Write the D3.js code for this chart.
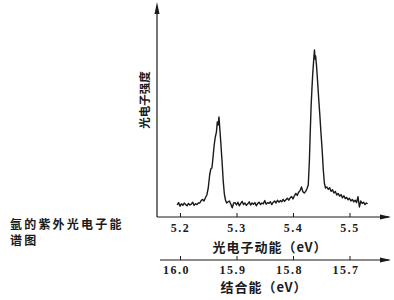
<!DOCTYPE html>
<html>
<head>
<meta charset="utf-8">
<script src="https://cdn.jsdelivr.net/npm/d3@7"></script>
<style>
	body { margin: 0; background: #fff; }
	text { fill: #1a1a1a; }
</style>
</head>
<body>
<div id="wrapper"></div>
<script>
// photoelectron kinetic energy (eV) and intensity (arb.)
const kineticEnergy = [
	5.195, 5.1975, 5.2, 5.2025, 5.205, 5.2075, 5.21, 5.2125, 5.215, 5.2175,
	5.22, 5.2225, 5.225, 5.2275, 5.23, 5.2325, 5.235, 5.2375, 5.24, 5.2425,
	5.245, 5.2475, 5.25, 5.2525, 5.2545, 5.2565, 5.2585, 5.2605, 5.2625, 5.2645,
	5.266, 5.2675, 5.269, 5.2705, 5.2725, 5.2745, 5.2765, 5.2785, 5.2805, 5.2825,
	5.285, 5.2875, 5.29, 5.2925, 5.295, 5.2975, 5.3, 5.3025, 5.305, 5.3075,
	5.31, 5.3125, 5.315, 5.3175, 5.32, 5.3225, 5.325, 5.3275, 5.33, 5.3325,
	5.335, 5.3375, 5.34, 5.3425, 5.345, 5.3475, 5.35, 5.3525, 5.355, 5.3575,
	5.36, 5.3625, 5.365, 5.3675, 5.37, 5.3725, 5.375, 5.3775, 5.38, 5.3825,
	5.385, 5.3875, 5.39, 5.3925, 5.395, 5.3975, 5.4, 5.4025, 5.405, 5.4075,
	5.41, 5.4125, 5.415, 5.4175, 5.42, 5.4225, 5.4245, 5.427, 5.429, 5.4305,
	5.432, 5.4335, 5.435, 5.4365, 5.438, 5.439, 5.44, 5.4415, 5.4435, 5.4455,
	5.4475, 5.4495, 5.4515, 5.4535, 5.4555, 5.4575, 5.46, 5.4625, 5.465, 5.4675,
	5.47, 5.4725, 5.475, 5.4775, 5.48, 5.4825, 5.485, 5.4875, 5.49, 5.4925,
	5.495, 5.4975, 5.5, 5.5025, 5.505, 5.5075, 5.51, 5.5125, 5.515, 5.5175,
	5.52, 5.5225, 5.525, 5.5275, 5.53, 5.532
]
const intensity = [
	6.0, 7.2, 5.4, 6.6, 5.8, 7.0, 6.2, 5.6, 6.8, 6.0,
	6.4, 7.4, 5.8, 6.6, 6.2, 7.0, 7.0, 8.2, 8.8, 8.0,
	9.6, 11.0, 14.5, 21.0, 24.0, 24.5, 30.0, 36.0, 40.0, 42.5,
	47.5, 46.0, 50.0, 44.0, 36.0, 27.5, 18.0, 11.5, 8.5, 7.0,
	7.6, 8.0, 6.4, 4.6, 7.0, 7.2, 6.0, 7.4, 5.6, 6.8,
	7.8, 6.2, 7.0, 5.8, 6.6, 7.6, 6.0, 7.0, 6.4, 7.2,
	5.6, 6.8, 7.4, 6.2, 7.0, 6.6, 8.2, 6.4, 7.2, 6.8,
	7.6, 6.2, 7.4, 8.0, 7.0, 8.4, 7.4, 8.2, 7.6, 8.8,
	7.8, 8.6, 9.4, 8.4, 9.6, 10.2, 9.0, 10.6, 11.8, 10.8,
	12.4, 13.2, 15.0, 12.6, 12.0, 12.8, 14.0, 16.0, 28.0, 42.0,
	55.0, 64.0, 72.0, 78.0, 83.5, 79.0, 80.5, 76.0, 68.0, 59.0,
	51.0, 42.0, 34.0, 24.0, 17.0, 14.5, 15.0, 13.8, 14.6, 12.8,
	13.6, 12.0, 12.8, 11.0, 11.8, 10.4, 11.2, 9.6, 10.6, 9.2,
	9.8, 8.6, 9.4, 8.0, 8.8, 7.6, 8.4, 7.2, 10.2, 5.0,
	8.0, 6.8, 7.4, 6.2, 7.0, 6.6
]

const keTicks = [5.2, 5.3, 5.4, 5.5]
const beTicks = [16.0, 15.9, 15.8, 15.7]

const keTitle = '光电子动能（eV）'
const beTitle = '结合能（eV）'
const yTitle = '光电子强度'
const captionLines = ['氩的紫外光电子能', '谱图']

function drawChart() {
	const spectrum = kineticEnergy.map((ke, i) => ({ke: ke, y: intensity[i]}))
	const xAccessor = d => d.ke
	const yAccessor = d => d.y

	const dimensions = {
		width: 394,
		height: 300,
		axisX: 157,
		axisY: 217,
		beAxisY: 260
	}

	const svg = d3.select('#wrapper')
		.append('svg')
			.attr('width', dimensions.width)
			.attr('height', dimensions.height)

	const cjk = '"Noto Sans CJK SC", sans-serif'
	const digits = '"Liberation Serif", serif'
	const ink = '#1a1a1a'

	// scales
	const xScale = d3.scaleLinear()
		.domain([5.2, 5.5])
		.range([180, 349.5])

	const beScale = d3.scaleLinear()
		.domain([16.0, 15.7])
		.range([180, 349.5])

	const yScale = d3.scaleLinear()
		.domain([0, 100])
		.range([dimensions.axisY, 17])

	// axis lines with arrows
	const arrowRight = (x, y) => `M${x},${y} L${x - 11},${y - 2.5} L${x - 11},${y + 2.5} Z`

	svg.append('line')
		.attr('x1', dimensions.axisX).attr('x2', 389)
		.attr('y1', dimensions.axisY).attr('y2', dimensions.axisY)
		.attr('stroke', ink).attr('stroke-width', 1.2)
	svg.append('path').attr('d', arrowRight(391, dimensions.axisY)).attr('fill', ink)

	svg.append('line')
		.attr('x1', dimensions.axisX).attr('x2', dimensions.axisX)
		.attr('y1', dimensions.axisY).attr('y2', 6)
		.attr('stroke', ink).attr('stroke-width', 1.2)
	svg.append('path')
		.attr('d', `M${dimensions.axisX},2 L${dimensions.axisX - 2.5},14 L${dimensions.axisX + 2.5},14 Z`)
		.attr('fill', ink)

	svg.append('line')
		.attr('x1', 160).attr('x2', 389)
		.attr('y1', dimensions.beAxisY).attr('y2', dimensions.beAxisY)
		.attr('stroke', ink).attr('stroke-width', 1.1)
	svg.append('path').attr('d', arrowRight(391, dimensions.beAxisY)).attr('fill', ink)

	// ticks
	const keAxis = d3.axisBottom(xScale)
		.tickValues(keTicks)
		.tickFormat(d3.format('.1f'))
		.tickSizeInner(-4)
		.tickSizeOuter(0)
		.tickPadding(6)

	const keGroup = svg.append('g')
		.attr('transform', `translate(0,${dimensions.axisY})`)
		.call(keAxis)
	keGroup.select('.domain').remove()

	const beAxis = d3.axisBottom(beScale)
		.tickValues(beTicks)
		.tickFormat(d3.format('.1f'))
		.tickSizeInner(-4)
		.tickSizeOuter(0)
		.tickPadding(5)

	const beGroup = svg.append('g')
		.attr('transform', `translate(0,${dimensions.beAxisY})`)
		.call(beAxis)
	beGroup.select('.domain').remove()
	beGroup.selectAll('.tick text').attr('dx', -4)

	svg.selectAll('.tick line').attr('stroke', ink).attr('stroke-width', 1)
	svg.selectAll('.tick text')
		.attr('font-family', digits)
		.attr('font-size', 12)
		.attr('font-weight', 'bold')
		.attr('letter-spacing', 1.5)
		.attr('fill', ink)

	// spectrum trace
	const lineGenerator = d3.line()
		.x(d => xScale(xAccessor(d)))
		.y(d => yScale(yAccessor(d)))

	svg.append('path')
		.datum(spectrum)
		.attr('d', lineGenerator)
		.attr('fill', 'none')
		.attr('stroke', ink)
		.attr('stroke-width', 1.4)
		.attr('stroke-linejoin', 'round')

	// titles
	svg.append('text')
		.attr('x', 270).attr('y', 252)
		.attr('text-anchor', 'middle')
		.attr('font-family', cjk).attr('font-weight', 'bold')
		.attr('font-size', 13).attr('letter-spacing', 1)
		.text(keTitle)

	svg.append('text')
		.attr('x', 264).attr('y', 292)
		.attr('text-anchor', 'middle')
		.attr('font-family', cjk).attr('font-weight', 'bold')
		.attr('font-size', 13).attr('letter-spacing', 1)
		.text(beTitle)

	svg.append('text')
		.attr('transform', 'translate(149,100) rotate(-90)')
		.attr('text-anchor', 'middle')
		.attr('font-family', cjk).attr('font-weight', 'bold')
		.attr('font-size', 11.5)
		.text(yTitle)

	svg.append('g')
		.selectAll('text')
		.data(captionLines)
		.join('text')
			.attr('x', 10)
			.attr('y', (d, i) => 229 + i * 16)
			.attr('font-family', cjk).attr('font-weight', 'bold')
			.attr('font-size', 12).attr('letter-spacing', 2.2)
			.text(d => d)
}
drawChart()
</script>
</body>
</html>
